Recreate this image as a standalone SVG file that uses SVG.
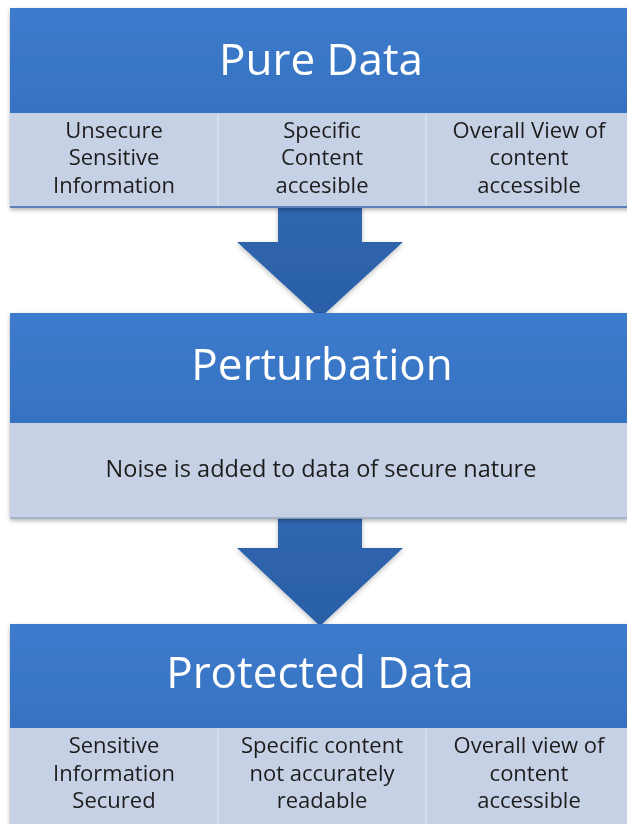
<svg xmlns="http://www.w3.org/2000/svg" width="627" height="824" viewBox="0 0 627 824">
<defs>
<linearGradient id="hdr" x1="0" y1="0" x2="0" y2="1">
<stop offset="0" stop-color="#3d7bcc"/>
<stop offset="1" stop-color="#3672c1"/>
</linearGradient>
<linearGradient id="arr" x1="0" y1="0" x2="0" y2="1">
<stop offset="0" stop-color="#2f66b0"/>
<stop offset="1" stop-color="#2b5fa6"/>
</linearGradient>
<filter id="sh" x="-5%" y="-5%" width="110%" height="115%">
<feDropShadow dx="0" dy="2" stdDeviation="2" flood-color="#000" flood-opacity="0.3"/>
</filter>
<filter id="ash" x="-10%" y="-10%" width="120%" height="120%">
<feDropShadow dx="0" dy="2" stdDeviation="2.5" flood-color="#000" flood-opacity="0.25"/>
</filter>
</defs>
<style>
.hdr{fill:url(#hdr)}
.row{fill:#c6d1e5}
.rowline{stroke:#5d7fb6;stroke-width:2}
.div{stroke:#dfe5ef;stroke-width:1.5}
.title{font-family:"Open Sans",sans-serif;font-size:44px;fill:#ffffff;text-anchor:middle}
.cell{font-family:"Open Sans",sans-serif;font-size:22px;fill:#1e1e1e;text-anchor:middle}
.note{font-family:"Open Sans",sans-serif;font-size:23.5px;fill:#1e1e1e;text-anchor:middle}
.arrow{fill:url(#arr)}
</style>
<rect width="627" height="824" fill="#ffffff"/>

<g id="connectors" filter="url(#ash)">
<polygon class="arrow" points="278,207 362,207 362,242 403,242 320,318 237,242 278,242"/>
<polygon class="arrow" points="278,518 362,518 362,548 403,548 320,626 237,548 278,548"/>
</g>

<g id="pure-data" filter="url(#sh)">
<rect class="hdr" x="10" y="8" width="630" height="105"/>
<rect class="row" x="10" y="113" width="630" height="94"/>
<line class="rowline" x1="10" y1="207" x2="640" y2="207"/>
<line class="div" x1="218" y1="114" x2="218" y2="206"/>
<line class="div" x1="426" y1="114" x2="426" y2="206"/>
<text class="title" x="321" y="75">Pure Data</text>
<text class="cell" x="114" y="137.5">Unsecure</text>
<text class="cell" x="114" y="165">Sensitive</text>
<text class="cell" x="114" y="192.5">Information</text>
<text class="cell" x="322" y="137.5">Specific</text>
<text class="cell" x="322" y="165">Content</text>
<text class="cell" x="322" y="192.5">accesible</text>
<text class="cell" x="529" y="137.5">Overall View of</text>
<text class="cell" x="529" y="165">content</text>
<text class="cell" x="529" y="192.5">accessible</text>
</g>

<g id="perturbation" filter="url(#sh)">
<rect class="hdr" x="10" y="313" width="630" height="110"/>
<rect class="row" x="10" y="423" width="630" height="95"/>
<line class="rowline" x1="10" y1="518" x2="640" y2="518" style="stroke:#9aa8c0;stroke-width:1.5"/>
<text class="title" x="322" y="380">Perturbation</text>
<text class="note" x="321" y="477">Noise is added to data of secure nature</text>
</g>

<g id="protected-data" filter="url(#sh)">
<rect class="hdr" x="10" y="624" width="630" height="104"/>
<rect class="row" x="10" y="728" width="630" height="100"/>
<line class="div" x1="218" y1="729" x2="218" y2="824"/>
<line class="div" x1="426" y1="729" x2="426" y2="824"/>
<text class="title" x="320" y="688">Protected Data</text>
<text class="cell" x="114" y="753">Sensitive</text>
<text class="cell" x="114" y="780.5">Information</text>
<text class="cell" x="114" y="808">Secured</text>
<text class="cell" x="322" y="753">Specific content</text>
<text class="cell" x="322" y="780.5">not accurately</text>
<text class="cell" x="322" y="808">readable</text>
<text class="cell" x="529" y="753">Overall view of</text>
<text class="cell" x="529" y="780.5">content</text>
<text class="cell" x="529" y="808">accessible</text>
</g>
</svg>
